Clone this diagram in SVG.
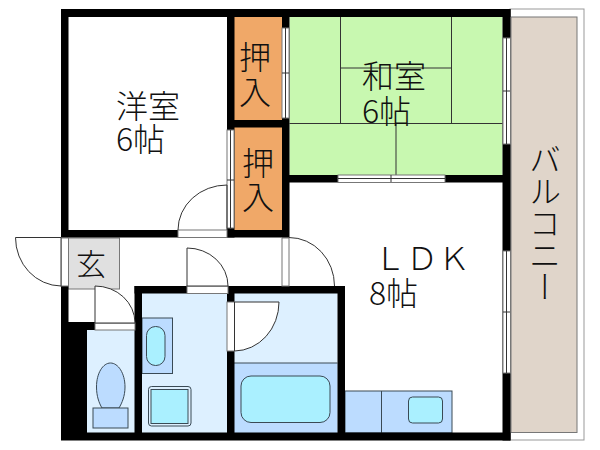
<svg xmlns="http://www.w3.org/2000/svg" width="600" height="450" viewBox="0 0 600 450">
<style>
.w{fill:#000}
.o{fill:#fff;stroke:#777;stroke-width:1}
.l{fill:none;stroke:#333;stroke-width:1}
.f{stroke:#3a4a55;stroke-width:1}
.b{fill:#bcdcff}
.c{fill:#aaf0ff}
.t{font-family:"Noto Sans CJK JP",sans-serif;font-size:32px;font-weight:300;fill:#111}
.d{fill:#fff;stroke:#333;stroke-width:1}
</style>
<rect width="600" height="450" fill="#fff"/>
<g id="balcony"><rect x="510" y="9" width="74" height="431" fill="#fff" stroke="#999"/><rect x="511" y="17" width="66" height="415.500" fill="#e0d5ca" stroke="#777"/>
<text class="t" x="545" y="143" style="writing-mode:vertical-rl" text-anchor="start" dominant-baseline="central">バルコニー</text></g>
<g id="room-yoshitsu"><text class="t" x="116" y="118">洋室</text><text class="t" x="116" y="151">6帖</text></g>
<g id="closet-1"><rect x="234" y="17" width="48" height="103" fill="#f0a868"/><text class="t" x="239" y="69">押</text><text class="t" x="239" y="104">入</text></g>
<g id="closet-2"><rect x="234" y="127" width="48" height="103" fill="#f0a868"/><text class="t" x="242" y="175">押</text><text class="t" x="242" y="209">入</text></g>
<g id="room-washitsu"><rect x="289.500" y="17" width="213" height="158" fill="#c8f8b0"/>
<path class="l" d="M340.500 17V123.500M451.500 17V123.500M340.500 68H451.500M289.500 123.500H502.500M396 123.500V175"/>
<text class="t" x="362" y="88">和室</text><text class="t" x="362" y="123">6帖</text></g>
<g id="room-ldk"><text class="t" x="374" y="270">ＬＤＫ</text><text class="t" x="369" y="305">8帖</text>
<rect class="b f" x="345" y="391" width="107" height="42"/><path class="f" d="M381.500 391V433"/><rect class="c f" x="408.500" y="397" width="34" height="26" rx="4"/></g>
<g id="genkan"><rect x="68" y="238" width="51.500" height="51" fill="#e0e0e0" stroke="#777"/><text class="t" x="76" y="275" style="font-size:30px">玄</text></g>
<g id="toilet"><rect x="87" y="330" width="48" height="103" fill="#ddf0ff"/>
<path class="b f" d="M110.500 363C118 363 125 373 125 387C125 396 122 403 119 408H102C99 403 96.500 396 96.500 387C96.500 373 103 363 110.500 363Z"/><rect class="b f" x="93" y="408" width="35" height="20"/></g>
<g id="washroom"><rect x="142" y="293" width="85" height="140" fill="#ddf0ff"/>
<rect class="b f" x="142" y="318" width="30.500" height="55.500"/><rect class="c f" x="146.500" y="326.500" width="18.500" height="39" rx="9"/>
<rect x="148.500" y="386.500" width="42.500" height="39.500" rx="3" fill="#ddf0ff" stroke="#3a4a55"/><rect class="c f" x="151" y="389.500" width="37" height="34"/></g>
<g id="bathroom"><rect x="234" y="293" width="103.500" height="140" fill="#ddf0ff"/><rect x="234" y="363" width="103.500" height="70" class="b"/><path class="f" d="M234 363H337.500"/>
<rect class="c f" x="241" y="376" width="89" height="46.500" rx="10"/></g>
<g id="walls">
<rect class="w" x="61" y="9" width="449.500" height="8"/>
<rect class="w" x="61" y="9" width="7.500" height="228.500"/>
<rect class="w" x="227" y="9" width="7.500" height="228.500"/>
<rect class="w" x="282" y="9" width="7.500" height="228.500"/>
<rect class="w" x="234" y="120" width="48" height="7.500"/>
<rect class="w" x="61" y="230" width="228" height="7.500"/>
<rect class="w" x="289" y="175" width="214" height="7.500"/>
<rect class="w" x="502.500" y="9" width="8" height="431.500"/>
<rect class="w" x="61" y="432.500" width="449.500" height="8"/>
<rect class="w" x="61" y="286" width="7.500" height="150"/>
<rect class="w" x="61" y="322" width="26" height="118"/>
<rect class="w" x="68" y="322" width="67" height="8"/>
<rect class="w" x="134.500" y="286" width="7.500" height="154"/>
<rect class="w" x="134.500" y="286" width="210.500" height="7.500"/>
<rect class="w" x="227" y="286" width="7.500" height="154"/>
<rect class="w" x="337.500" y="286" width="7.500" height="154"/>
</g>
<g id="connectors">
<rect class="o" x="282" y="28" width="7" height="90"/><path class="l" d="M285.500 28V118M282 73H289"/>
<rect class="o" x="227" y="130" width="7" height="98"/><path class="l" d="M230.500 130V228M227 180H234"/>
<rect class="o" x="338" y="175" width="107" height="7.500"/><path class="l" d="M338 178.500H445M391 175V182"/>
<rect class="o" x="503" y="38" width="7.500" height="106"/><path class="l" d="M506.500 38V144M503 91H510"/>
<rect class="o" x="503" y="251" width="7.500" height="122"/><path class="l" d="M506.500 251V373M503 312H510"/>
<rect class="o" x="178" y="230" width="49" height="7.500"/><path class="l" d="M178 230A49 45 0 0 1 227 185V230"/>
<rect class="o" x="61" y="238" width="7.500" height="48"/><path class="d" d="M61 237.500H15.500A46 48.500 0 0 0 61 286Z"/>
<rect class="o" x="95" y="323" width="40" height="7"/><path class="d" d="M95 323V286A40 37 0 0 1 135 323Z"/>
<rect class="o" x="187" y="286" width="41" height="7.500"/><path class="d" d="M187 286V248A41 38 0 0 1 228 286Z"/>
<rect class="o" x="227" y="302" width="7.500" height="49"/><path class="d" d="M234.500 302H279A45 49 0 0 1 234.500 351Z"/>
<rect class="o" x="282" y="238" width="7" height="48"/><path class="l" d="M289 237.500A45.500 48.500 0 0 1 334.500 286"/>
</g>
</svg>
